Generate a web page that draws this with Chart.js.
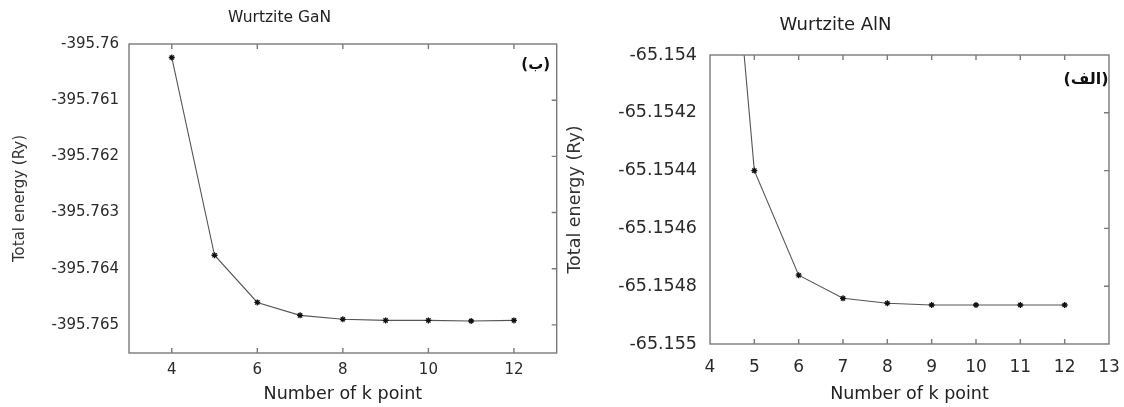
<!DOCTYPE html>
<html><head><meta charset="utf-8">
<script src="https://cdn.jsdelivr.net/npm/chart.js@4"></script>
<style>
html,body{margin:0;padding:0;background:#fff;}
#wrap{position:relative;width:1124px;height:407px;overflow:hidden;}
canvas{position:absolute;top:0;}
</style></head><body>
<div id="wrap">
<canvas id="gan" width="562" height="407" style="left:0;width:562px;height:407px"></canvas>
<canvas id="aln" width="562" height="407" style="left:562px;width:562px;height:407px"></canvas>
</div>
<script>
// ---- data ----
const kPoints = [4, 5, 6, 7, 8, 9, 10, 11, 12];
const ganEnergy = [-395.76024, -395.76376, -395.7646, -395.76483, -395.7649, -395.76492, -395.76492, -395.76493, -395.76492];
const alnEnergy = [-65.15266, -65.1544, -65.154762, -65.154842, -65.154859, -65.154865, -65.154865, -65.154865, -65.154865];
const ganXTicks = [4, 6, 8, 10, 12];
const ganYTicks = [-395.76, -395.761, -395.762, -395.763, -395.764, -395.765];
const ganYLabels = ['-395.76', '-395.761', '-395.762', '-395.763', '-395.764', '-395.765'];
const alnXTicks = [4, 5, 6, 7, 8, 9, 10, 11, 12, 13];
const alnYTicks = [-65.154, -65.1542, -65.1544, -65.1546, -65.1548, -65.155];
const alnYLabels = ['-65.154', '-65.1542', '-65.1544', '-65.1546', '-65.1548', '-65.155'];

const FONT = "'DejaVu Sans', 'Liberation Sans', sans-serif";

const framePlugin = {
  id: 'frame',
  afterDatasetsDraw(chart, args, o) {
    const {ctx, chartArea: a, scales: {x, y}} = chart;
    ctx.save();
    ctx.strokeStyle = '#7a7a7a';
    ctx.lineWidth = 1.4;
    ctx.strokeRect(a.left, a.top, a.right - a.left, a.bottom - a.top);
    ctx.beginPath();
    const L = 5;
    x.ticks.forEach(t => {
      const px = x.getPixelForValue(t.value);
      if (px <= a.left + 1 || px >= a.right - 1) return;
      ctx.moveTo(px, a.bottom); ctx.lineTo(px, a.bottom - L);
      ctx.moveTo(px, a.top); ctx.lineTo(px, a.top + L);
    });
    y.ticks.forEach(t => {
      const py = y.getPixelForValue(t.value);
      if (py <= a.top + 1 || py >= a.bottom - 1) return;
      ctx.moveTo(a.right, py); ctx.lineTo(a.right - L, py);
    });
    ctx.stroke();
    ctx.font = o.labelFont;
    ctx.fillStyle = '#111';
    ctx.textAlign = 'center';
    ctx.textBaseline = 'middle';
    ctx.direction = 'rtl';
    ctx.fillText(o.label, a.right + o.dx, a.top + o.dy);
    ctx.restore();
  }
};

function makeChart(id, c) {
  const data = kPoints.map((k, i) => ({x: k, y: c.values[i]}));
  return new Chart(document.getElementById(id), {
    type: 'line',
    data: {datasets: [{
      data,
      borderColor: '#555',
      borderWidth: 1.1,
      tension: 0,
      pointStyle: 'star',
      pointRadius: 3,
      pointBorderWidth: 1.3,
      pointBorderColor: '#111',
      pointBackgroundColor: '#111'
    }]},
    options: {
      responsive: false,
      animation: false,
      devicePixelRatio: 1,
      layout: {padding: {left: 0, right: c.padRight, top: 0, bottom: 0}},
      plugins: {
        legend: {display: false},
        tooltip: {enabled: false},
        title: {
          display: true, text: c.title, color: '#222',
          font: {family: FONT, size: c.titleSize, weight: 'normal'},
          padding: {top: c.titlePadTop, bottom: c.titlePadBottom}
        },
        frame: {label: c.label, labelFont: c.labelFont, dx: c.labelDx, dy: c.labelDy}
      },
      scales: {
        x: {
          type: 'linear', min: c.xMin, max: c.xMax,
          afterBuildTicks: s => { s.ticks = c.xTicks.map(v => ({value: v})); },
          afterFit: s => { s.height = c.xHeight; s.paddingLeft = 0; s.paddingRight = 0; },
          grid: {display: false, drawTicks: false},
          border: {display: false},
          ticks: {font: {family: FONT, size: c.xTickSize}, color: '#2a2a2a', padding: c.xTickPad,
                  maxRotation: 0, autoSkip: false, callback: v => String(v)},
          title: {display: true, text: 'Number of k point', color: '#222',
                  font: {family: FONT, size: c.xTitleSize}, padding: {top: 0, bottom: c.xTitlePadBottom}}
        },
        y: {
          type: 'linear', min: c.yMin, max: c.yMax,
          afterBuildTicks: s => { s.ticks = c.yTicks.map(v => ({value: v})); },
          afterFit: s => { s.width = c.yWidth; s.paddingTop = 0; s.paddingBottom = 0; },
          grid: {display: false, drawTicks: false},
          border: {display: false},
          ticks: {font: {family: FONT, size: c.yTickSize}, color: '#2a2a2a', padding: c.yTickPad,
                  autoSkip: false,
                  callback: v => c.yLabels[c.yTicks.findIndex(t => Math.abs(t - v) < 1e-9)]},
          title: {display: true, text: 'Total energy (Ry)', color: '#333',
                  font: {family: FONT, size: c.yTitleSize}, padding: {top: c.yTitlePadTop, bottom: 0}}
        }
      }
    },
    plugins: [framePlugin]
  });
}

makeChart('gan', {
  values: ganEnergy, title: 'Wurtzite GaN', titleSize: 15.5, titlePadTop: 8.7, titlePadBottom: 16.7,
  xMin: 3, xMax: 13, xTicks: ganXTicks, xHeight: 54, xTickSize: 15, xTickPad: 8, xTitleSize: 17.5, xTitlePadBottom: 2,
  yMin: -395.7655, yMax: -395.76, yTicks: ganYTicks, yLabels: ganYLabels, yWidth: 129, yTickSize: 15, yTickPad: 10,
  yTitleSize: 15, yTitlePadTop: 11, padRight: 3,
  label: '(ب)', labelFont: "bold 15px " + FONT, labelDx: -21, labelDy: 21
});

makeChart('aln', {
  values: alnEnergy, title: 'Wurtzite AlN', titleSize: 18, titlePadTop: 14.2, titlePadBottom: 19.2,
  xMin: 4, xMax: 13, xTicks: alnXTicks, xHeight: 63, xTickSize: 17, xTickPad: 13, xTitleSize: 17.5, xTitlePadBottom: 2,
  yMin: -65.155, yMax: -65.154, yTicks: alnYTicks, yLabels: alnYLabels, yWidth: 148, yTickSize: 17.5, yTickPad: 13,
  yTitleSize: 17.5, yTitlePadTop: 2.5, padRight: 15,
  label: '(الف)', labelFont: "bold 16px " + FONT, labelDx: -23, labelDy: 25
});
</script>
</body></html>
